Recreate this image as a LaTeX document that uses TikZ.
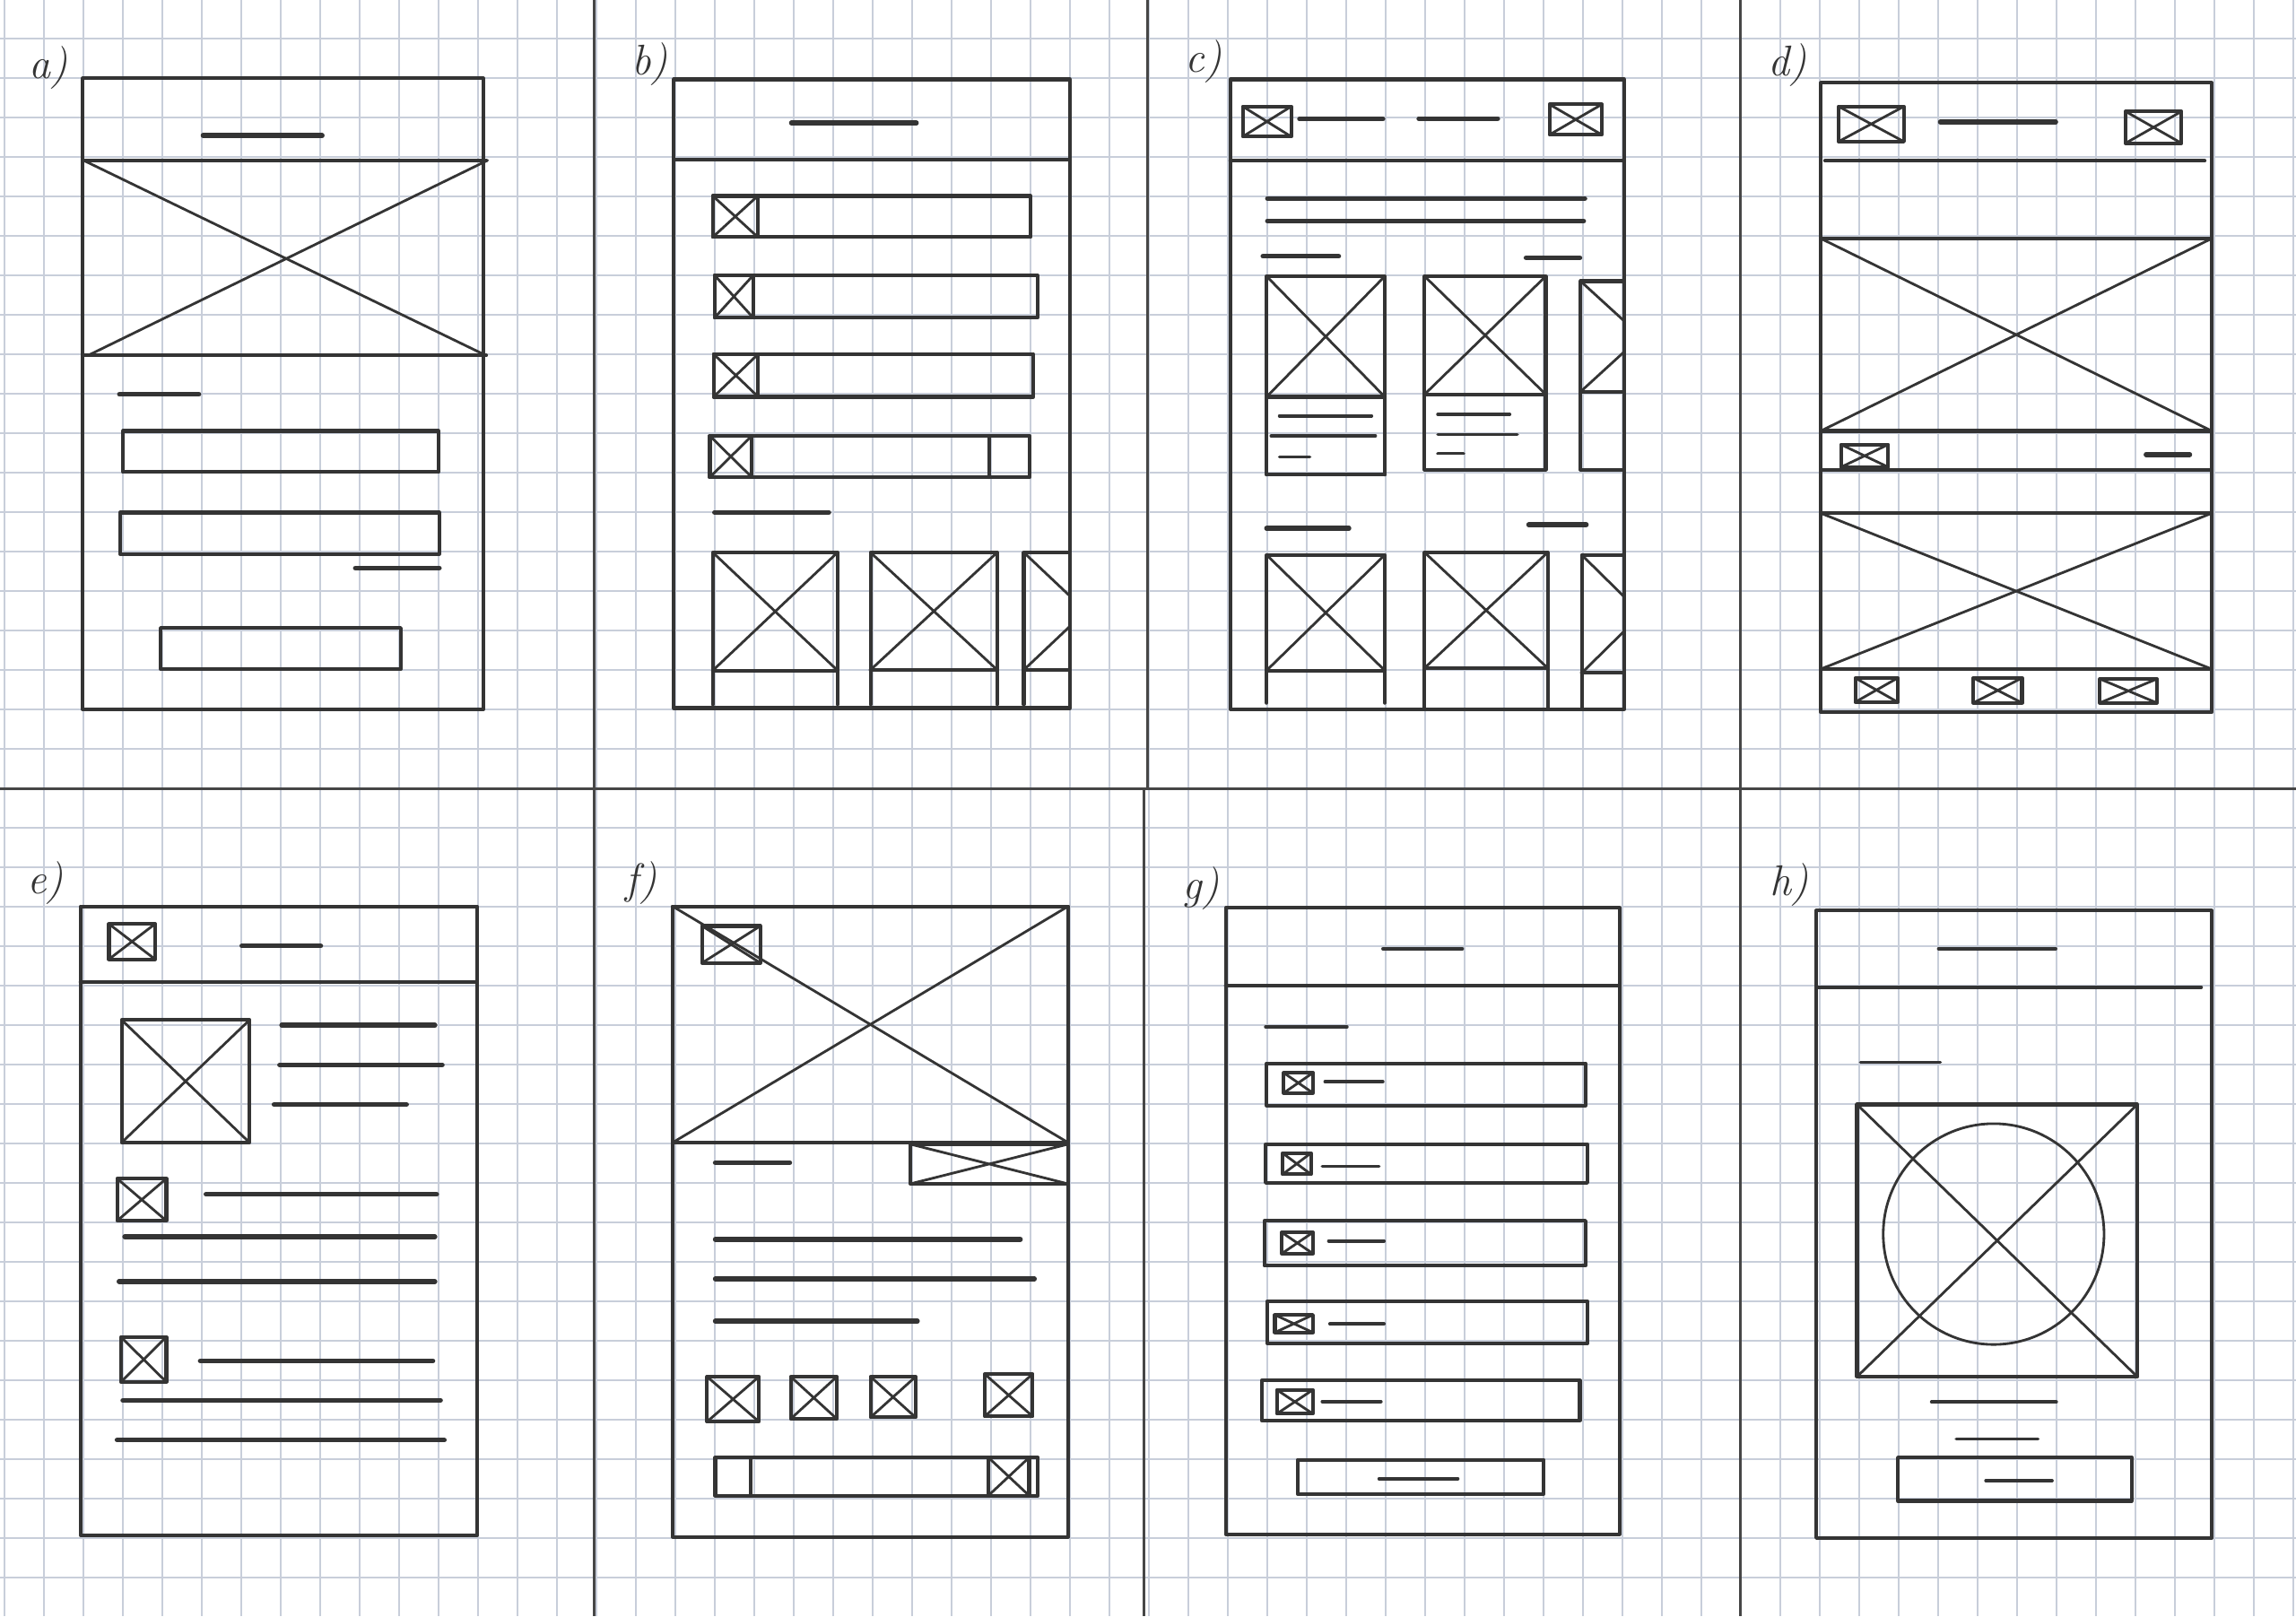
\documentclass[tikz,border=0pt]{standalone}
\usepackage{tikz}

\definecolor{ink}{RGB}{52,52,52}
\definecolor{gridblue}{RGB}{200,206,218}
\definecolor{edgegrey}{RGB}{70,70,70}

% box with a cross: x1 y1 x2 y2
\newcommand{\crossrect}[5][]{%
  \draw[outline,#1] (#2,#3) rectangle (#4,#5);
  \draw[crossline] (#2,#3) -- (#4,#5) (#2,#5) -- (#4,#3);}
% image card open at the bottom: x1 ytop x2 ycross ybottom
\newcommand{\crosscard}[5]{%
  \draw[outline] (#1,#5) -- (#1,#2) -- (#3,#2) -- (#3,#5) (#1,#4) -- (#3,#4);
  \draw[crossline] (#1,#2) -- (#3,#4) (#1,#4) -- (#3,#2);}

\begin{document}
\begin{tikzpicture}[x=0.75pt,y=0.75pt,yscale=-1,xscale=1,
  outline/.style={draw=ink,line width=1.9pt,line cap=round,line join=round},
  inkbar/.style={draw=ink,line width=2.5pt,line cap=round},
  thinink/.style={draw=ink,line width=1.7pt,line cap=round},
  crossline/.style={draw=ink,line width=1.3pt,line cap=round},
  gridline/.style={draw=gridblue,line width=0.5pt},
  cardedge/.style={draw=edgegrey,line width=1.4pt},
  lbl/.style={text=ink,font=\fontsize{22}{24}\selectfont\itshape,inner sep=0.75pt}]

\useasboundingbox (0,0) rectangle (1568,1104);
\fill[white] (0,0) rectangle (1568,1104);

% squared paper
\foreach \gx in {0,...,58} \draw[gridline] ({3.06+26.95*\gx},0) -- ({3.06+26.95*\gx},1104);
\foreach \gy in {1,...,41} \draw[gridline] (0,{-0.6+26.95*\gy}) -- (1568,{-0.6+26.95*\gy});

% card edges
\draw[cardedge] (405.5,0) -- (405.5,1104);
\draw[cardedge] (783.5,0) -- (783.5,538.5);
\draw[cardedge] (781,538.5) -- (781,1104);
\draw[cardedge] (1188.8,0) -- (1188.8,1104);
\draw[cardedge] (0,538.5) -- (1568,538.5);

%%%%%%%%%%%%%%%%%%%% a) login
% Text Node
\node[lbl] (labA) at (33,46) {a)};
\draw[outline] (56.5,53.5) rectangle (330,484.5);
\draw[inkbar] (138.7,92.6) -- (220,92.6);
\draw[outline] (57,109.5) -- (332,109.5) (57,242.8) -- (332,242.8);
\draw[crossline] (57,109.5) -- (332,242.8) (60,242.8) -- (333,109.5);
\draw[inkbar] (81.6,269.3) -- (135.8,269.3);
\draw[outline] (84,294.3) rectangle (299.5,322.4);
\draw[outline] (82,350) rectangle (300,378.3);
\draw[inkbar] (242.7,388) -- (300,388);
\draw[outline] (109.7,428.8) rectangle (273.7,456.9);

%%%%%%%%%%%%%%%%%%%% b) list
% Text Node
\node[lbl] (labB) at (443.7,44) {b)};
\draw[outline] (460.1,54.2) rectangle (730.7,483.6);
\draw[inkbar] (540.5,84) -- (625.8,84);
\draw[outline] (460.1,109) -- (730.7,109);
\draw[outline] (486.8,133.8) rectangle (704,161.9);
\crossrect{486.8}{133.8}{517.5}{161.9}
\draw[outline] (488,188) rectangle (708.4,217);
\crossrect{488}{188}{514.4}{217}
\draw[outline] (487.3,241.8) rectangle (705.7,271);
\crossrect{487.3}{241.8}{517.8}{271}
\draw[outline] (484.8,297.7) rectangle (703.3,325.9);
\crossrect{484.8}{297.7}{513.4}{325.9}
\draw[outline] (675.7,297.7) -- (675.7,325.9);
\draw[inkbar] (488,349.9) -- (566,349.9);
\crosscard{486.8}{377.3}{572}{457.9}{481}
\crosscard{594.5}{377.3}{681}{457.5}{481}
\begin{scope}
\clip (690,370) rectangle (730.7,484);
\crosscard{699.2}{377.3}{784}{457.5}{481}
\end{scope}

%%%%%%%%%%%%%%%%%%%% c) feed
% Text Node
\node[lbl] (labC) at (822,42) {c)};
\draw[outline] (840.2,54.2) rectangle (1109.2,484.3);
\crossrect{848.7}{72.7}{881.8}{93.3}
\draw[inkbar] (887.5,81.3) -- (944.4,81.3);
\draw[inkbar] (969,81) -- (1022.8,81);
\crossrect{1058.2}{71.3}{1093.9}{92}
\draw[outline] (840.2,109.8) -- (1109.2,109.8);
\draw[inkbar] (865.6,135.5) -- (1082.3,135.5);
\draw[inkbar] (865.6,150.9) -- (1081.5,150.9);
\draw[inkbar] (862.5,175) -- (914.2,175);
\draw[inkbar] (1042.2,176) -- (1078.9,176);
\crosscard{865}{188.7}{945.7}{271}{324.1}
\draw[outline] (865,324.1) -- (945.7,324.1);
\draw[thinink] (873.8,284) -- (936.7,284);
\draw[thinink] (868.1,297.7) -- (939.3,297.7);
\draw[thinink] (873.8,312.1) -- (894.5,312.1);
\crosscard{972.9}{188.7}{1055.6}{269.3}{320.7}
\draw[outline] (972.9,320.7) -- (1055.6,320.7);
\draw[thinink] (981.9,283) -- (1031,283);
\draw[thinink] (981.9,296.7) -- (1036.2,296.7);
\draw[thinink] (981.9,309.7) -- (999.5,309.7);
\begin{scope}
\clip (1070,180) rectangle (1109.2,484);
\crosscard{1079.4}{192}{1162}{267.5}{320.7}
\draw[outline] (1079.4,320.7) -- (1162,320.7);
\end{scope}
\draw[inkbar] (865,360.8) -- (921.2,360.8);
\draw[inkbar] (1044,358.4) -- (1083.3,358.4);
\crosscard{865}{379}{945.7}{457.9}{480}
\crosscard{972.9}{377.3}{1056.9}{456.2}{484}
\begin{scope}
\clip (1070,370) rectangle (1109.2,484);
\crosscard{1080.2}{379}{1162}{459.6}{484}
\end{scope}

%%%%%%%%%%%%%%%%%%%% d) gallery
% Text Node
\node[lbl] (labD) at (1221,44.6) {d)};
\draw[outline] (1243.5,56.6) rectangle (1510.4,486.4);
\crossrect{1255.6}{72.7}{1300.2}{96.7}
\draw[inkbar] (1325.1,83.3) -- (1403.9,83.3);
\crossrect{1451.6}{76.1}{1489.8}{97.8}
\draw[outline] (1246.4,109.8) -- (1505.6,109.8);
\crossrect{1243.5}{162.9}{1510.4}{294.3}
\draw[outline] (1243.5,320.7) -- (1510.4,320.7);
\crossrect{1257.3}{303.6}{1289.5}{319}
\draw[inkbar] (1465.6,310.4) -- (1495.4,310.4);
\crossrect{1243.5}{350.5}{1510.4}{456.9}
\crossrect{1267}{463}{1296}{479.5}
\crossrect{1347.7}{463}{1380.9}{480}
\crossrect{1434.1}{463.7}{1472.9}{480}

%%%%%%%%%%%%%%%%%%%% e) profile
% Text Node
\node[lbl] (labE) at (31,603) {e)};
\draw[outline] (55,619) rectangle (325.8,1048.5);
\crossrect{74.4}{631}{105.9}{655.1}
\draw[inkbar] (165.2,646) -- (219,646);
\draw[outline] (55,670.6) -- (325.8,670.6);
\crossrect{83.1}{696.6}{170.4}{780.3}
\draw[inkbar] (192.4,700.2) -- (297,700.2);
\draw[inkbar] (191,727.3) -- (302,727.3);
\draw[inkbar] (187.2,754.3) -- (277.6,754.3);
\crossrect{80}{804.9}{113.6}{833.7}
\draw[inkbar] (140.7,815.7) -- (298.2,815.7);
\draw[inkbar] (85.2,844.6) -- (297,844.6);
\draw[inkbar] (81.3,875.2) -- (297,875.2);
\crossrect{82.6}{913.1}{113.6}{943.8}
\draw[inkbar] (136.8,929.4) -- (295.6,929.4);
\draw[inkbar] (83.9,956.4) -- (300.8,956.4);
\draw[inkbar] (80,983.5) -- (303.4,983.5);

%%%%%%%%%%%%%%%%%%%% f) detail
% Text Node
\node[lbl] (labF) at (438,603) {f)};
\draw[outline] (459.4,619) rectangle (729.4,1049.6);
\crossrect{459.4}{619}{729.4}{780.3}
\crossrect{479.5}{632.4}{519.2}{657.6}
\crossrect{621.7}{781.4}{729.4}{808.5}
\draw[inkbar] (488.5,794) -- (539.3,794);
\draw[inkbar] (488.5,846.4) -- (696.8,846.4);
\draw[inkbar] (488.5,873.4) -- (706.4,873.4);
\draw[inkbar] (488.5,902.3) -- (626.5,902.3);
\crossrect{482.9}{940.2}{518.3}{970.9}
\crossrect{540}{940.2}{571.5}{969}
\crossrect{594.5}{940.2}{625.3}{968}
\crossrect{672.5}{938.4}{705.2}{967.3}
\draw[outline] (488.5,995.4) rectangle (708.9,1021.4);
\draw[outline] (512.7,995.4) -- (512.7,1021.4);
\crossrect{675}{995.4}{702.8}{1021.4}

%%%%%%%%%%%%%%%%%%%% g) menu
% Text Node
\node[lbl] (labG) at (820.3,606.4) {g)};
\draw[outline] (837.1,620.1) rectangle (1106,1047.8);
\draw[thinink] (944.4,647.9) -- (998.7,647.9);
\draw[outline] (837.1,673.1) -- (1106,673.1);
\draw[thinink] (864.3,701.3) -- (919.9,701.3);
\draw[outline] (865,726.2) rectangle (1082.8,755);
\crossrect{876.7}{732.7}{896.6}{746.4}
\draw[thinink] (904.9,738.8) -- (944.4,738.8);
\draw[outline] (864.3,781.4) rectangle (1084,807.8);
\crossrect{875.9}{787.5}{895.3}{802}
\draw[thinink] (903,796.6) -- (941.8,796.6);
\draw[outline] (863.5,833.7) rectangle (1082.8,864.4);
\crossrect{875.4}{841.7}{896.6}{856.1}
\draw[thinink] (907.4,847.5) -- (945.2,847.5);
\draw[outline] (865.5,888.6) rectangle (1084,917.5);
\crossrect{870.7}{898}{896.6}{910}
\draw[thinink] (908.2,904.1) -- (945.2,904.1);
\draw[outline] (861.7,942.7) rectangle (1078.9,970.2);
\crossrect{872}{949.2}{896.6}{965.5}
\draw[thinink] (903,957.2) -- (943.1,957.2);
\draw[outline] (886.2,996.9) rectangle (1054.3,1020.3);
\draw[thinink] (941.8,1009.9) -- (995.6,1009.9);

%%%%%%%%%%%%%%%%%%%% h) avatar
% Text Node
\node[lbl] (labH) at (1222,604) {h)};
\draw[outline] (1240.4,621.9) rectangle (1510.4,1050.3);
\draw[thinink] (1323.9,647.9) -- (1403.9,647.9);
\draw[outline] (1240.4,674.2) -- (1503.2,674.2);
\draw[thinink] (1270.6,725.5) -- (1325.1,725.5);
\crossrect{1268.2}{754.3}{1459.6}{940.2}
\draw[crossline] (1361.5,842.8) circle [radius=75.4];
\draw[thinink] (1319.1,957.5) -- (1404.3,957.5);
\draw[thinink] (1336,982.8) -- (1391.8,982.8);
\draw[outline] (1296.1,995.4) rectangle (1455.9,1025);
\draw[thinink] (1356.2,1011.3) -- (1401.4,1011.3);

\end{tikzpicture}
\end{document}
